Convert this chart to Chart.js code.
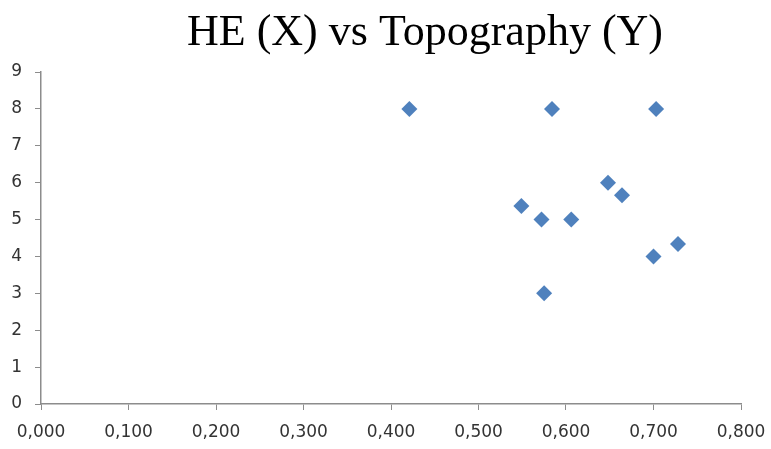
<!DOCTYPE html>
<html>
<head>
<meta charset="utf-8">
<title>HE (X) vs Topography (Y)</title>
<script src="https://cdn.jsdelivr.net/npm/chart.js@4/dist/chart.umd.min.js"></script>
<style>
    html, body { margin: 0; padding: 0; background: #fff; }
    #wrap { width: 771px; height: 449px; position: relative; }
</style>
</head>
<body>
<div id="wrap"><canvas id="chart" width="771" height="449"></canvas></div>
<script>
// Chart data
const chartTitle = 'HE (X) vs Topography (Y)';
const heValues = [0.421, 0.584, 0.703, 0.648, 0.664, 0.549, 0.572, 0.606, 0.728, 0.700, 0.575];
const topographyValues = [8, 8, 8, 6, 5.66, 5.37, 5, 5, 4.34, 4, 3];
const xTickLabels = ['0,000', '0,100', '0,200', '0,300', '0,400', '0,500', '0,600', '0,700', '0,800'];
const yTickLabels = ['0', '1', '2', '3', '4', '5', '6', '7', '8', '9'];

const axisGray = '#8c8c8c';
const labelColor = '#333333';
const labelFont = { family: '"DejaVu Sans", Verdana, sans-serif', size: 17 };

// Title drawn a bit right of centre, like the original
const titlePlugin = {
    id: 'offsetTitle',
    afterDraw(chart) {
        const ctx = chart.ctx;
        ctx.save();
        ctx.font = '44px "Liberation Serif", "Times New Roman", serif';
        ctx.fillStyle = '#000';
        ctx.textAlign = 'center';
        ctx.textBaseline = 'alphabetic';
        ctx.fillText(chartTitle, 425, 45);
        ctx.restore();
    }
};

const points = heValues.map((x, i) => ({ x: x, y: topographyValues[i] }));

new Chart(document.getElementById('chart'), {
    type: 'scatter',
    data: {
        datasets: [{
            label: 'Topography',
            data: points,
            pointStyle: 'rectRot',
            pointRadius: 8,
            pointHoverRadius: 8,
            backgroundColor: '#4F81BD',
            borderColor: '#4F81BD',
            borderWidth: 0
        }]
    },
    options: {
        responsive: false,
        animation: false,
        layout: {
            padding: { top: 72, right: 30, bottom: 0, left: 0 }
        },
        plugins: {
            legend: { display: false },
            title: { display: false },
            tooltip: { enabled: false }
        },
        scales: {
            x: {
                type: 'linear',
                min: 0,
                max: 0.8,
                afterFit: (scale) => {
                    scale.height = 45;
                    scale.paddingLeft = 0;
                    scale.paddingRight = 0;
                },
                ticks: {
                    stepSize: 0.1,
                    color: labelColor,
                    font: labelFont,
                    padding: 12,
                    maxRotation: 0,
                    autoSkip: false,
                    callback: (value) => xTickLabels[Math.round(value * 10)]
                },
                grid: {
                    drawOnChartArea: false,
                    color: axisGray,
                    tickLength: 6
                },
                border: { color: axisGray, width: 1.5 }
            },
            y: {
                type: 'linear',
                min: 0,
                max: 9,
                afterFit: (scale) => {
                    scale.width = 41;
                    scale.paddingTop = 0;
                    scale.paddingBottom = 0;
                },
                ticks: {
                    stepSize: 1,
                    color: labelColor,
                    font: labelFont,
                    padding: 13,
                    callback: (value) => yTickLabels[value]
                },
                grid: {
                    drawOnChartArea: false,
                    color: axisGray,
                    tickLength: 6
                },
                border: { color: axisGray, width: 1.5 }
            }
        }
    },
    plugins: [titlePlugin]
});
</script>
</body>
</html>
